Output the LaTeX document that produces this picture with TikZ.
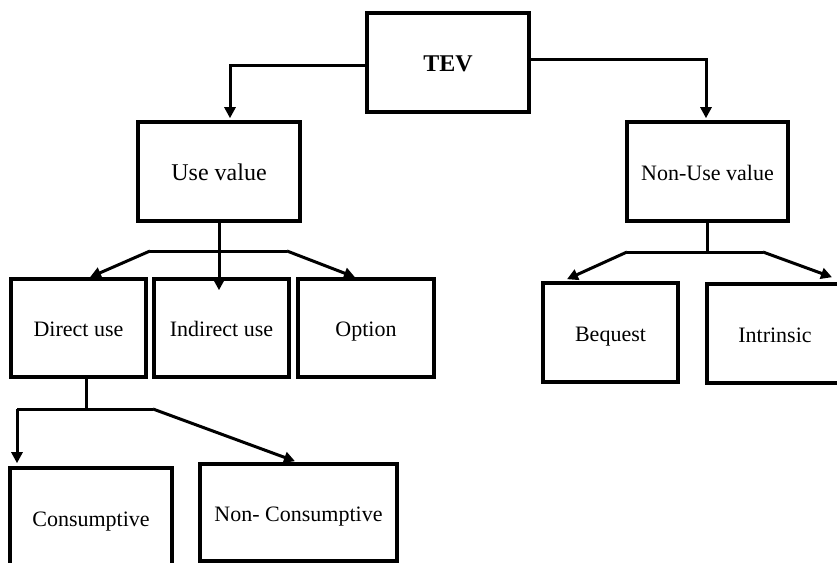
\documentclass[tikz,border=0pt]{standalone}
\usepackage{fontspec}
\setmainfont{Liberation Serif}
\usetikzlibrary{arrows.meta,calc}
\begin{document}
\begin{tikzpicture}[x=0.5pt,y=-0.5pt,
  valbox/.style={draw,line width=1.8pt,rectangle,inner sep=0pt,
    text height=0.86em,text depth=0em,
    font=\fontsize{11}{13}\selectfont},
  bigtext/.style={font=\fontsize{12}{14}\selectfont},
  link/.style={line width=1.5pt,line join=miter},
  arr/.style={link,-{Triangle[length=5.5pt,width=5.5pt]}}]
\useasboundingbox (0,0) rectangle (837,563);
\clip (0,0) rectangle (837,563);

% top level
\node[valbox,minimum width=81pt,minimum height=49.5pt,font=\fontsize{12}{14}\selectfont\bfseries]
  (TEV) at (448,62.5) {TEV};

% second level
\node[valbox,bigtext,minimum width=81pt,minimum height=49.5pt] (Use) at (219,171.5) {Use value};
\node[valbox,minimum width=80.5pt,minimum height=49.5pt] (NonUse) at (707.5,171.5) {Non-Use value};

% use value branches
\node[valbox,minimum width=67.5pt,minimum height=49pt] (Direct) at (78.5,328) {Direct use};
\node[valbox,minimum width=67.5pt,minimum height=49pt] (Indirect) at (221.5,328) {Indirect use};
\node[valbox,minimum width=68pt,minimum height=49pt] (Option) at (366,328) {Option};

% non-use value branches
\node[valbox,minimum width=67.5pt,minimum height=49.5pt] (Bequest) at (610.5,332.5) {Bequest};
\node[valbox,minimum width=68pt,minimum height=49.5pt] (Intrinsic) at (775,333.5) {Intrinsic};

% direct use branches
\node[valbox,minimum width=81pt,minimum height=49.5pt] (Cons) at (91,517.5) {Consumptive};
\node[valbox,minimum width=98.5pt,minimum height=48.5pt] (NonCons) at (298.5,512.5) {Non- Consumptive};

% TEV to the two value types
\draw[arr] ($(TEV.west)+(0,2.5)$) -| ($(Use.north)+(11,-2)$);
\draw[arr] ($(TEV.east)+(0,-3.5)$) -| ($(NonUse.north)+(-1.5,-2)$);

% use value split
\coordinate (ubL) at (150,251);
\coordinate (ubR) at (287,251);
\draw[arr] (Use.south) -- ($(Use.south |- Indirect.north)+(0,13)$);
\draw[link] (ubL) -- (ubR);
\draw[arr] (ubL) -- ($(Direct.north)+(11.5,0)$);
\draw[arr] (ubR) -- ($(Option.north)+(-11,0)$);

% non-use value split
\coordinate (nbL) at (627,252);
\coordinate (nbR) at (763,252);
\draw[link] (NonUse.south) -- (NonUse.south |- nbL);
\draw[link] (nbL) -- (nbR);
\draw[arr] (nbL) -- ($(Bequest.north)+(-43.5,-2)$);
\draw[arr] (nbR) -- ($(Intrinsic.north)+(57,-5)$);

% direct use split
\coordinate (dbL) at (17,409);
\coordinate (dbR) at (153,409);
\coordinate (dTop) at ($(Direct.south)+(7.5,0)$);
\draw[link] (dTop) -- (dTop |- dbL);
\draw[link] (dbL) -- (dbR);
\draw[arr] (dbL) -- ($(Cons.north)+(-74,-3)$);
\draw[arr] (dbR) -- ($(NonCons.north)+(-3.5,-1)$);
\end{tikzpicture}
\end{document}
